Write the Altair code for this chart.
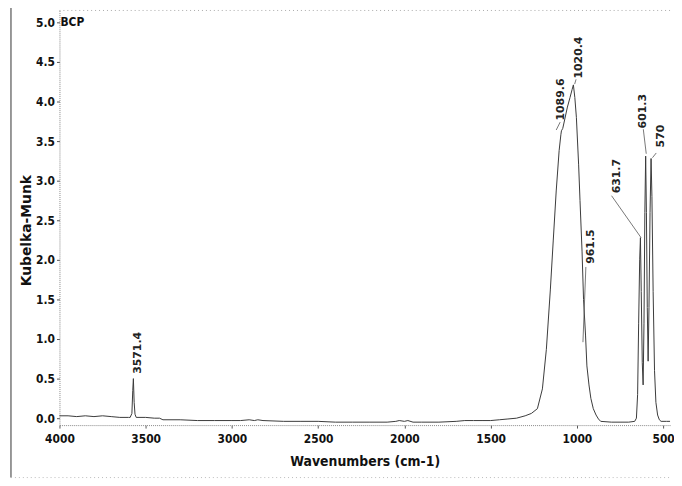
import altair as alt
import pandas as pd

# Spectrum: wavenumber (cm-1) and Kubelka-Munk value
wavenumber = [4000, 3950, 3900, 3850, 3800, 3750, 3700, 3650, 3600, 3590, 3580, 3575,
              3571.4, 3567, 3562, 3555, 3500, 3450, 3420, 3400, 3300, 3200, 3100, 3000,
              2950, 2900, 2870, 2850, 2820, 2700, 2600, 2500, 2400, 2300, 2200, 2100,
              2050, 2030, 2000, 1980, 1950, 1900, 1800, 1700, 1650, 1600, 1550, 1500,
              1450, 1400, 1350, 1300, 1264, 1229, 1200, 1177, 1154, 1137, 1120, 1103,
              1093, 1089.6, 1082, 1070, 1055, 1040, 1028, 1020.4, 1012, 1003, 990, 982,
              970, 961.5, 950, 942, 930, 919, 905, 889, 875, 862, 800, 750, 700, 665,
              655, 648, 642, 636, 631.7, 627, 621, 616, 611, 606, 601.3, 597, 592, 587,
              582, 576, 570, 565, 558, 550, 542, 532, 522, 512, 480, 460]
km = [0.03, 0.03, 0.02, 0.03, 0.02, 0.03, 0.02, 0.01, 0.01, 0.01, 0.06, 0.35,
      0.50, 0.20, 0.05, 0.01, 0.01, 0.00, 0.00, -0.02, -0.02, -0.03, -0.03, -0.03,
      -0.03, -0.02, -0.03, -0.02, -0.03, -0.04, -0.04, -0.04, -0.05, -0.05, -0.05, -0.05,
      -0.04, -0.03, -0.04, -0.03, -0.05, -0.05, -0.05, -0.04, -0.03, -0.03, -0.03, -0.03,
      -0.02, -0.01, 0.00, 0.03, 0.06, 0.12, 0.37, 0.87, 1.62, 2.25, 2.87, 3.38,
      3.58, 3.63, 3.66, 3.78, 3.93, 4.05, 4.15, 4.21, 4.05, 3.80, 3.20, 2.75,
      2.10, 1.50, 1.05, 0.66, 0.42, 0.25, 0.12, 0.04, -0.01, -0.04, -0.05, -0.05, -0.05, -0.04,
      0.00, 0.30, 1.20, 2.00, 2.28, 1.60, 0.70, 0.42, 1.20, 2.60, 3.31, 2.60, 1.40, 0.72,
      1.40, 2.60, 3.28, 2.80, 1.60, 0.60, 0.20, 0.04, -0.02, -0.04, -0.04, -0.04]

# Peak labels
peak_text = ["3571.4", "1089.6", "1020.4", "961.5", "631.7", "601.3", "570"]
peak_x = [3547, 1091, 988, 919, 770, 615, 512]
peak_y = [0.56, 3.76, 4.29, 1.95, 2.84, 3.66, 3.42]

# Leader lines from labels to peaks
lead_x1 = [1120, 1005, 948, 799, 615, 540]
lead_y1 = [3.64, 4.28, 1.91, 2.81, 3.65, 3.35]
lead_x2 = [1097, 1013, 965, 628, 598, 562]
lead_y2 = [3.74, 4.22, 0.96, 2.28, 3.34, 3.29]

x_ticks = [4000, 3500, 3000, 2500, 2000, 1500, 1000, 500]
y_ticks = [0.0, 0.5, 1.0, 1.5, 2.0, 2.5, 3.0, 3.5, 4.0, 4.5, 5.0]

spec = pd.DataFrame({"wn": wavenumber, "km": km})
peaks = pd.DataFrame({"t": peak_text, "x": peak_x, "y": peak_y})
leads = pd.DataFrame({"x1": lead_x1, "y1": lead_y1, "x2": lead_x2, "y2": lead_y2})
one = pd.DataFrame({"a": [0]})

W, H = 617, 419
narrow = "Liberation Sans Narrow, DejaVu Sans Condensed, Arial Narrow, sans-serif"

xscale = alt.Scale(domain=[460, 4000], reverse=True, nice=False, zero=False)
yscale = alt.Scale(domain=[-0.0875, 5.15], nice=False, zero=False)

line = alt.Chart(spec).mark_line(color="#3a3a3a", strokeWidth=1).encode(
    x=alt.X("wn:Q", scale=xscale,
            axis=alt.Axis(values=x_ticks, title="Wavenumbers (cm-1)", format="d",
                          labelOverlap=False, labelFlush=False, grid=False, tickSize=3,
                          labelPadding=6, titlePadding=10,
                          domainDash=[1, 1], domainColor="#888", tickColor="#555",
                          labelFont=narrow, labelFontSize=12, labelFontWeight="bold",
                          labelColor="#111",
                          titleFont=narrow, titleFontSize=14, titleFontWeight="bold",
                          titleColor="#111")),
    y=alt.Y("km:Q", scale=yscale,
            axis=alt.Axis(values=y_ticks, format=".1f", title="Kubelka-Munk",
                          grid=False, tickSize=3, labelPadding=2,
                          domainDash=[1, 1], domainColor="#888", tickColor="#555",
                          labelFont=narrow, labelFontSize=12, labelFontWeight="bold",
                          labelColor="#111",
                          titleFont="DejaVu Sans", titleFontSize=14, titleFontWeight="bold",
                          titleColor="#111", titleAngle=270, titleX=-33, titleY=222,
                          titleAlign="center", titleBaseline="middle")),
    order="wn:Q",
)

labels = alt.Chart(peaks).mark_text(
    angle=270, align="left", baseline="middle", font="DejaVu Sans",
    fontSize=11, fontWeight="bold", color="#222"
).encode(x=alt.X("x:Q", scale=xscale), y=alt.Y("y:Q", scale=yscale), text="t:N")

leaders = alt.Chart(leads).mark_rule(color="#555", strokeWidth=0.8).encode(
    x=alt.X("x1:Q", scale=xscale), y=alt.Y("y1:Q", scale=yscale),
    x2="x2:Q", y2="y2:Q")

bcp = alt.Chart(pd.DataFrame({"x": [3994], "y": [5.0], "t": ["BCP"]})).mark_text(
    align="left", baseline="middle", font=narrow, fontSize=12, fontWeight="bold",
    color="#111"
).encode(x=alt.X("x:Q", scale=xscale), y=alt.Y("y:Q", scale=yscale), text="t:N")

top_border = alt.Chart(one).mark_rule(color="#aaa", strokeDash=[1, 3]).encode(
    x=alt.value(0), x2=alt.value(W), y=alt.value(0))
left_frame = alt.Chart(one).mark_rule(color="#333", strokeWidth=1).encode(
    x=alt.value(-49), y=alt.value(-3), y2=alt.value(472))
bottom_frame = alt.Chart(one).mark_rule(color="#bbb", strokeDash=[1, 3]).encode(
    x=alt.value(-49), x2=alt.value(W), y=alt.value(472))

chart = alt.layer(top_border, left_frame, bottom_frame, line, leaders, labels, bcp).properties(
    width=W, height=H,
    autosize=alt.AutoSizeParams(type="none"),
    padding={"left": 52, "top": 0, "right": 4, "bottom": 56},
    background="white",
).configure_view(stroke=None)

chart.save("out.html", embed_options={"renderer": "svg", "actions": False})
